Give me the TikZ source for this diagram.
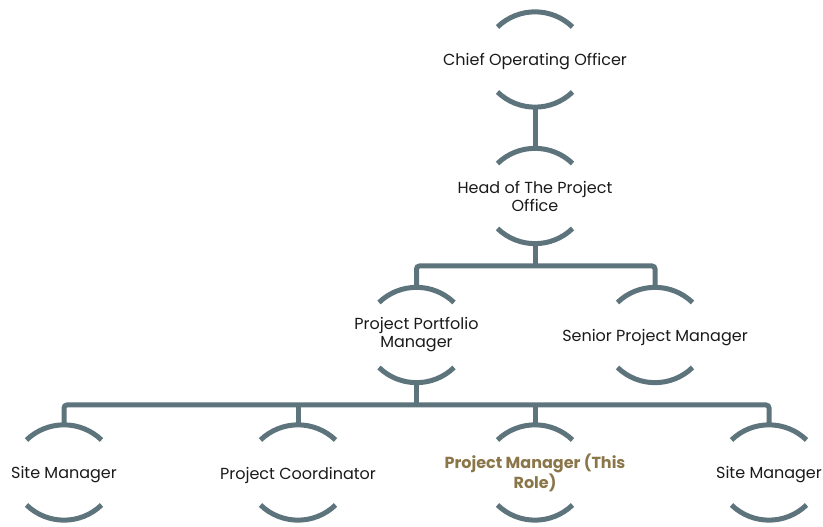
\documentclass[tikz,border=0pt]{standalone}
\usepackage{fontspec}
\setmainfont{Poppins}
\usetikzlibrary{calc}
\definecolor{linegray}{HTML}{5E747C}
\definecolor{roletext}{HTML}{8A7649}
\definecolor{txt}{HTML}{1A1A1A}
\tikzset{
  member/.style={rectangle, minimum height=96pt, inner sep=0pt, outer sep=0pt, draw=none,
    align=center, font=\fontsize{16}{18}\selectfont, text=txt},
  memberlow/.style={member, minimum height=98pt},
  highlight/.style={text=roletext, font=\fontsize{16}{18}\selectfont\bfseries},
  arcline/.style={draw=linegray, line width=5pt},
  connector/.style={draw=linegray, line width=5pt, rounded corners=3pt}
}
\newcommand{\oneline}[1]{\raisebox{-2.5pt}[\height][\depth]{#1}}
\newcommand{\bracketarcs}[1]{%
  \draw[arcline] ($(#1.center)+(-37.5,32.5)$) arc[start angle=134, end angle=46, radius=54];
  \draw[arcline] ($(#1.center)+(-37.5,-32.5)$) arc[start angle=226, end angle=314, radius=54];
}
\begin{document}
\begin{tikzpicture}[x=1pt,y=1pt]
\useasboundingbox (0,0) rectangle (823,527);
\node[member] (coo) at (535,467.5) {\oneline{Chief Operating Officer}};
\node[member] (head) at (535,331) {Head of The Project\\Office};
\node[member] (port) at (416.5,192) {Project Portfolio\\Manager};
\node[member] (senior) at (655,192) {\oneline{Senior Project Manager}};
\node[memberlow] (s1) at (64,54.5) {\oneline{Site Manager}};
\node[memberlow] (coord) at (298,54.5) {\oneline{Project Coordinator}};
\node[memberlow,highlight] (pm) at (535,54.5) {Project Manager (This\\Role)};
\node[memberlow] (s2) at (769,54.5) {\oneline{Site Manager}};
\foreach \n in {coo,head,port,senior,s1,coord,pm,s2}{\bracketarcs{\n}}
\coordinate (bar1) at (535,261);
\coordinate (bar2) at (416.5,122);
\draw[connector] (coo.south) -- (head.north);
\draw[connector] (head.south) -- (bar1);
\draw[connector] (port.north) |- (bar1) -| (senior.north);
\draw[connector] (port.south) -- (bar2);
\draw[connector] (s1.north) |- (bar2) -| (s2.north);
\draw[connector] (coord.north) -- (coord.north |- bar2);
\draw[connector] (pm.north) -- (pm.north |- bar2);
\end{tikzpicture}
\end{document}
